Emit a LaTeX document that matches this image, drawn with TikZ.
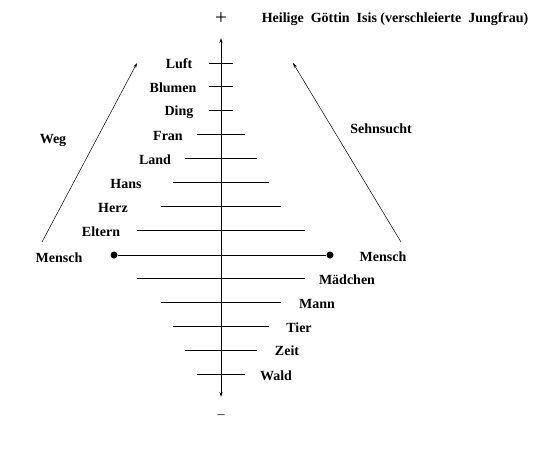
\documentclass[tikz,border=0pt]{standalone}
\usepackage{fontspec}
\setmainfont{Liberation Serif}
\usetikzlibrary{arrows.meta, positioning}

\begin{document}
\begin{tikzpicture}[
  x=1pt, y=-1pt,
  lbl/.style={font=\fontsize{14}{16}\selectfont\bfseries, inner sep=0pt},
  tick/.style={line width=0.8pt},
  arrow/.style={-{Stealth[length=5pt,width=3pt]}, line width=0.5pt},
  dot/.style={circle, fill, inner sep=0pt, minimum size=7pt}
]
  \useasboundingbox (0,0) rectangle (559,460);

  % vertical axis
  \node[font=\fontsize{21}{22}\selectfont, inner sep=0pt] (plus) at (221,19) {+};
  \node[font=\fontsize{14}{16}\selectfont, inner sep=0pt] (minus) at (221,417) {--};
  \coordinate (axtop) at (221,38);
  \coordinate (axbot) at (221,397);
  \draw[{Stealth[length=5pt,width=3pt]}-{Stealth[length=5pt,width=3pt]}, line width=0.8pt] (axbot) -- (axtop);
  \node[lbl] (isis) at (395,19) {Heilige\ \ Göttin\ \ Isis\ (verschleierte\ \ Jungfrau)};

  % rungs
  \draw[tick] (209,63) -- (233,63);
  \draw[tick] (209,86) -- (233,86);
  \draw[tick] (209,110) -- (233,110);
  \draw[tick] (197,134) -- (245,134);
  \draw[tick] (185,158) -- (257,158);
  \draw[tick] (173,182) -- (269,182);
  \draw[tick] (161,206) -- (281,206);
  \draw[tick] (137,230) -- (305,230);
  \node[dot] (dotl) at (114,255) {};
  \node[dot] (dotr) at (330,255) {};
  \draw[tick] (dotl) -- (dotr);
  \draw[tick] (137,278) -- (305,278);
  \draw[tick] (161,302) -- (281,302);
  \draw[tick] (173,326) -- (269,326);
  \draw[tick] (185,350) -- (257,350);
  \draw[tick] (197,374) -- (245,374);

  % upper labels
  \node[lbl] (luft) at (179,64) {Luft};
  \node[lbl] (blumen) at (173,88) {Blumen};
  \node[lbl] (ding) at (179,112) {Ding};
  \node[lbl] (fran) at (168,136) {Fran};
  \node[lbl] (land) at (155,160) {Land};
  \node[lbl] (hans) at (126,184) {Hans};
  \node[lbl] (herz) at (113,208) {Herz};
  \node[lbl] (eltern) at (101,232) {Eltern};
  \node[lbl] (menschl) at (59,258) {Mensch};

  % lower labels
  \node[lbl] (menschr) at (383,257) {Mensch};
  \node[lbl] (maedchen) at (347,280) {Mädchen};
  \node[lbl] (mann) at (317,304) {Mann};
  \node[lbl] (tier) at (299,328) {Tier};
  \node[lbl] (zeit) at (287,351) {Zeit};
  \node[lbl] (wald) at (276,376) {Wald};

  % ways up
  \coordinate (wegfrom) at (42,242);
  \coordinate (wegto) at (137,63);
  \coordinate (sehnfrom) at (401,242);
  \coordinate (sehnto) at (293,63);
  \draw[arrow] (wegfrom) -- (wegto);
  \draw[arrow] (sehnfrom) -- (sehnto);
  \node[lbl] (weg) at (53,140) {Weg};
  \node[lbl] (sehnsucht) at (381,129) {Sehnsucht};
\end{tikzpicture}
\end{document}
